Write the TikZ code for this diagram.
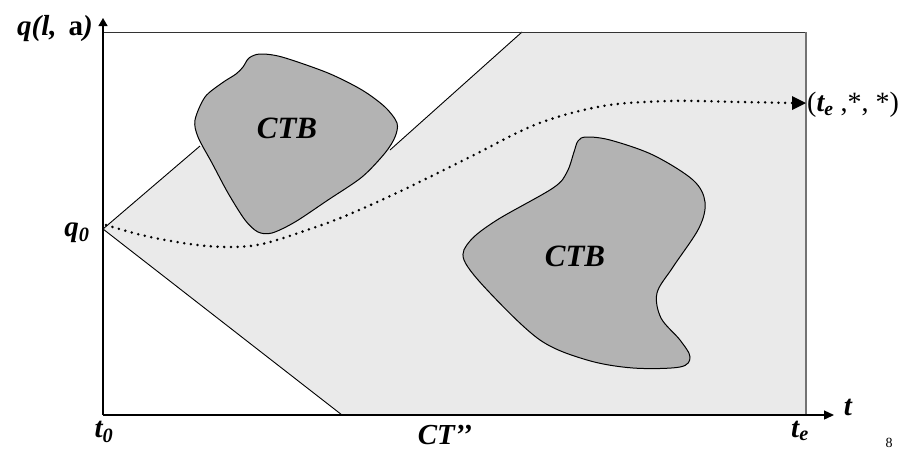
\documentclass[tikz,border=0pt]{standalone}
\usepackage{fontspec}
\setmainfont{Liberation Serif}
\usetikzlibrary{arrows.meta,calc}
\definecolor{regionfill}{HTML}{EAEAEA}
\definecolor{blobfill}{HTML}{B3B3B3}
\definecolor{edgegray}{HTML}{737373}
\tikzset{
  axisline/.style={line width=1.3pt},
  thinline/.style={line width=0.9pt},
  blob/.style={draw=black,line width=1pt,fill=blobfill},
  lbl/.style={font=\fontsize{29}{32}\selectfont\bfseries\itshape,inner sep=0pt},
  blobtext/.style={font=\fontsize{31}{34}\selectfont\bfseries\itshape,inner sep=0pt},
  pathline/.style={line width=2.8pt,dash pattern=on 0pt off 6.7pt,line cap=round},
}
\begin{document}
\begin{tikzpicture}[x=1pt,y=-1pt]
\useasboundingbox (0,0) rectangle (913,451);
% frame and region corners
\coordinate (O) at (103,415);
\coordinate (Ytip) at (103,18);
\coordinate (Xtip) at (834,415);
\coordinate (q0) at (103,229);
\coordinate (TL) at (103,32);
\coordinate (Lhit) at (200,146);
\coordinate (Rhit) at (390,150);
\coordinate (Ttop) at (522,32);
\coordinate (TR) at (806,32);
\coordinate (BR) at (806,415);
\coordinate (Bbot) at (342,415);
\coordinate (pstart) at (106,225);
\coordinate (pbase) at (792,103);
\coordinate (pend) at (806,103);

% reachable region
\fill[regionfill] (q0) -- (Lhit) -- (Rhit) -- (Ttop) -- (TR) -- (BR) -- (Bbot) -- cycle;
\draw[thinline] (q0) -- (Lhit);
\draw[thinline] (Rhit) -- (Ttop);
\draw[thinline] (q0) -- (Bbot);
\draw[thinline,draw=black!80] (TL) -- (TR);
\draw[edgegray,line width=2.7pt] (TR) -- (BR);

% obstacles
\draw[blob] plot[smooth cycle,tension=0.5] coordinates {
  (260,54) (282,57) (328,73) (362,90) (385,107) (397,123) (395,137)
  (385,153) (362,177) (328,200) (295,222) (272,233) (258,232) (245,220)
  (228,193) (212,163) (198,137) (195,120) (205,97) (222,83) (236,74)
  (243,67) (249,58)};
\draw[blob] plot[smooth cycle,tension=0.55] coordinates {
  (586,137) (610,140) (653,155) (693,180) (705,202) (699,228) (673,267)
  (657,293) (661,318) (680,340) (690,357) (680,367) (633,368) (587,360)
  (540,340) (490,293) (464,260) (470,241) (497,220) (553,188) (567,172)
  (574,152) (578,141)};
\node[blobtext] (ctb1) at (287,128) {CTB};
\node[blobtext] (ctb2) at (575,256) {CTB};

% axes
\draw[axisline,-{Triangle[length=8pt,width=9pt]}] (O) -- (Ytip);
\draw[axisline,-{Triangle[length=10pt,width=9pt]}] (O) -- (Xtip);

% trajectory
\draw[pathline] plot[smooth,tension=0.55] coordinates {
  (pstart) (150,237) (207,246) (257,245) (313,228) (350,214) (403,190)
  (470,157) (537,124) (603,106) (670,101) (740,102) (pbase)};
\fill (pend) -- ($(pbase)+(0,-7)$) -- ($(pbase)+(0,7)$) -- cycle;

% labels
\node[lbl,anchor=east] (ylab) at (93,29) {q(l,\, {\upshape a})};
\node[lbl] (q0lab) at (77,233) {q\textsubscript{0}};
\node[lbl] (t0lab) at (104,432) {t\textsubscript{0}};
\node[lbl] (ctlab) at (445,435) {CT’’};
\node[lbl] (telab) at (800,431) {t\textsubscript{e}};
\node[lbl] (tlab) at (848,407) {t};
\node[inner sep=0pt,font=\fontsize{14}{16}\selectfont] (pg) at (889,443) {8};
\node[inner sep=0pt,anchor=west,font=\fontsize{28}{32}\selectfont] (endlab) at (807,105)
  {(\textbf{\textit{t\textsubscript{e}}} ,*, *)};
\end{tikzpicture}
\end{document}
